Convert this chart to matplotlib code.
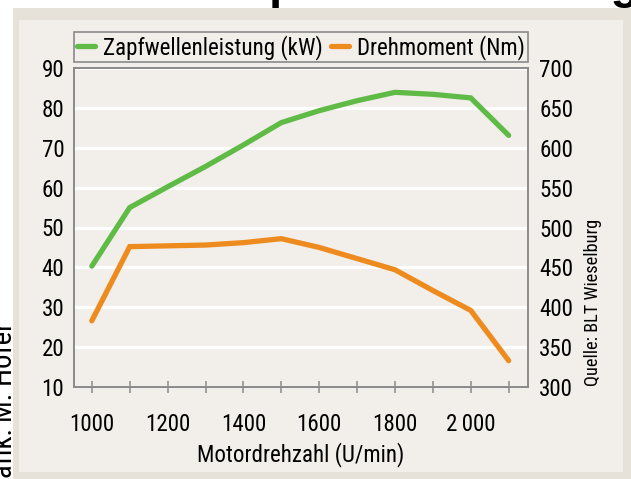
import matplotlib
matplotlib.use("Agg")
import matplotlib.pyplot as plt
import matplotlib.font_manager as fm
from matplotlib.patches import Rectangle

# ---- data ----
rpm = [1000, 1100, 1200, 1300, 1400, 1500, 1600, 1700, 1800, 1900, 2000, 2100]
power_kw = [40.3, 55.0, 60.2, 65.3, 70.7, 76.3, 79.3, 81.8, 83.9, 83.4, 82.5, 73.1]
torque_nm = [383, 476, 477, 478, 481, 486, 475, 461, 447, 421, 396, 333]
x_ticks = [1000, 1100, 1200, 1300, 1400, 1500, 1600, 1700, 1800, 1900, 2000, 2100]
x_tick_labels = ["1000", "", "1200", "", "1400", "", "1600", "", "1800", "", "2\u2009000", ""]
left_ticks = [10, 20, 30, 40, 50, 60, 70, 80, 90]
right_ticks = [300, 350, 400, 450, 500, 550, 600, 650, 700]
series_names = ["Zapfwellenleistung (kW)", "Drehmoment (Nm)"]

W, H = 631, 479
GREEN = "#5fbb46"
ORANGE = "#ee8b1f"
GRAY = "#8a8a8a"
PANEL = "#f2efea"
FRAME = "#e6e2da"


def pick_narrow_font():
    best = None
    for f in fm.fontManager.ttflist:
        if f.style != "normal":
            continue
        w = f.weight
        if isinstance(w, str):
            if w not in ("normal", "regular", "book", "400"):
                continue
        elif w != 400:
            continue
        st = str(f.stretch)
        n = f.name
        rank = None
        if n == "Liberation Sans Narrow":
            rank = 0
        elif n == "Roboto Condensed":
            rank = 1
        elif n == "DejaVu Sans" and st in ("condensed", "semi-condensed"):
            rank = 2
        elif n in ("Noto Sans", "Open Sans", "Roboto") and st in ("condensed", "semi-condensed"):
            rank = 3
        elif ("Narrow" in n or "Condensed" in n) and "Mono" not in n and "Serif" not in n:
            rank = 4
        if rank is not None and (best is None or rank < best[0]):
            best = (rank, n, st)
    if best is None:
        return "Liberation Sans", "normal", 15.0
    return best[1], best[2], 16.6


FAMILY, STRETCH, FS = pick_narrow_font()
plt.rcParams['font.family'] = [FAMILY, 'DejaVu Sans']
plt.rcParams['font.stretch'] = STRETCH

fig = plt.figure(figsize=(W / 100, H / 100), dpi=100)
fig.patch.set_facecolor("white")
fig.patches.append(Rectangle((13 / W, 0), 1 - 13 / W, 1 - 8 / H, transform=fig.transFigure,
                             facecolor=FRAME, edgecolor="none", zorder=-10))
fig.patches.append(Rectangle((19 / W, 7 / H), (623 - 19) / W, (472 - 20) / H, transform=fig.transFigure,
                             facecolor=PANEL, edgecolor="none", zorder=-9))

ax = fig.add_axes([74 / W, (H - 387) / H, 454 / W, 319 / H])
ax.set_facecolor(PANEL)
ax.set_xlim(953, 2151)
ax.set_ylim(10, 90)
ax.set_yticks(left_ticks)
ax.yaxis.grid(True, color="white", lw=2.3)
ax.set_axisbelow(True)
ax.set_xticks(x_ticks)
ax.set_xticklabels(x_tick_labels)
ax.tick_params(axis="x", direction="inout", length=8, width=1.1, color=GRAY, pad=15, labelsize=FS)
ax.tick_params(axis="y", length=0, pad=7, labelsize=FS)

ax2 = ax.twinx()
ax2.set_ylim(300, 700)
ax2.set_yticks(right_ticks)
ax2.tick_params(axis="y", length=0, pad=8, labelsize=FS)

for a in (ax, ax2):
    for s in a.spines.values():
        s.set_color(GRAY)
        s.set_linewidth(1.2)

l1, = ax.plot(rpm, power_kw, color=GREEN, lw=3.8, solid_capstyle="round", solid_joinstyle="miter")
l2, = ax2.plot(rpm, torque_nm, color=ORANGE, lw=3.8, solid_capstyle="round", solid_joinstyle="miter")

ax.set_xlabel("Motordrehzahl (U/min)", fontsize=FS, labelpad=4)

leg = ax2.legend([l1, l2], series_names, ncol=2, loc="upper left",
                 bbox_to_anchor=(74 / W, 1 - 62 / H, 454 / W, 30 / H), bbox_transform=fig.transFigure,
                 mode="expand", frameon=True, fancybox=False, edgecolor=GRAY, facecolor=PANEL,
                 framealpha=1, borderaxespad=0, handlelength=0.8, handletextpad=0.35,
                 borderpad=0.12, fontsize=FS, columnspacing=1.0)
leg.get_frame().set_linewidth(1.2)

fig.text(18 / W, 1 - 322 / H, "Grafik: M. Hofer", rotation=90, ha="right", va="top", fontsize=FS * 1.25)
fig.text(602 / W, (H - 386) / H, "Quelle: BLT Wieselburg", rotation=90, ha="right", va="bottom",
         fontsize=FS * 0.8)
fig.text(215 / W, 1 + 2 / H, "Zapfwellenleistung", fontsize=34, fontweight="bold",
         family=["Liberation Sans", "DejaVu Sans"], stretch="normal", ha="left", va="baseline")

fig.savefig("out.png", dpi=100, facecolor=fig.get_facecolor())
